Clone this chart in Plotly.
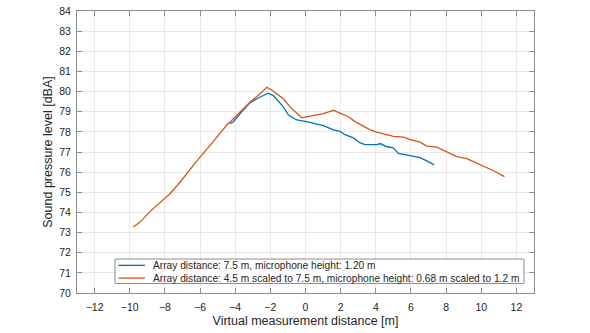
import plotly.graph_objects as go

# Orange series: array distance 4.5 m scaled
x_scaled = [-9.8, -9.41, -8.85, -8.37, -8.09, -7.71, -7.14, -6.67, -6.19, -5.24, -4.48, -4.2,
            -3.72, -3.15, -2.58, -2.2, -1.92, -1.26, -0.88, -0.21, 0.26, 1.02, 1.59, 1.97,
            2.44, 2.82, 3.2, 3.68, 4.06, 4.63, 5.0, 5.58, 5.95, 6.52, 6.9, 7.47, 8.04, 8.61,
            9.18, 9.46, 9.94, 10.7, 11.32]
y_scaled = [73.28, 73.52, 74.04, 74.42, 74.61, 74.93, 75.5, 76.03, 76.55, 77.53, 78.34, 78.56,
            79.0, 79.48, 79.89, 80.21, 80.08, 79.64, 79.24, 78.70, 78.78, 78.91, 79.07, 78.91,
            78.75, 78.51, 78.34, 78.1, 77.99, 77.86, 77.78, 77.74, 77.61, 77.49, 77.29, 77.24,
            77.0, 76.77, 76.67, 76.56, 76.35, 76.07, 75.78]

# Blue series: array distance 7.5 m
x_ref = [-4.3, -4.1, -3.63, -3.15, -2.58, -2.11, -1.83, -1.26, -0.97, -0.5, 0.07, 0.64, 1.02,
         1.59, 1.97, 2.25, 2.73, 3.11, 3.39, 4.06, 4.25, 4.63, 5.0, 5.29, 5.95, 6.52, 6.9, 7.32]
y_ref = [78.4, 78.5, 78.99, 79.45, 79.73, 79.92, 79.80, 79.24, 78.83, 78.59, 78.51, 78.39, 78.31,
         78.1, 78.02, 77.86, 77.70, 77.45, 77.37, 77.37, 77.42, 77.26, 77.21, 76.93, 76.83, 76.72,
         76.56, 76.36]

x_ticks = [-12, -10, -8, -6, -4, -2, 0, 2, 4, 6, 8, 10, 12]
y_ticks = list(range(70, 85))

series_names = ["Array distance: 7.5 m, microphone height: 1.20 m",
                "Array distance: 4.5 m scaled to 7.5 m, microphone height: 0.68 m scaled to 1.2 m"]
series_colors = ["#0072BD", "#D95319"]

font = "Liberation Sans, Arial, sans-serif"

fig = go.Figure()
fig.add_trace(go.Scatter(x=x_ref, y=y_ref, mode="lines",
                         line=dict(color=series_colors[0], width=1.3),
                         name=series_names[0], showlegend=False))
fig.add_trace(go.Scatter(x=x_scaled, y=y_scaled, mode="lines",
                         line=dict(color=series_colors[1], width=1.3),
                         name=series_names[1], showlegend=False))

axis_common = dict(showline=True, linecolor="#8c8c8c", linewidth=1, mirror="allticks",
                   ticks="inside", ticklen=5, tickcolor="#8c8c8c",
                   showgrid=True, gridcolor="#e8e8e8", gridwidth=1, zeroline=False,
                   ticklabeloverflow="allow",
                   tickfont=dict(family=font, size=10.5, color="#262626"))

# Compact legend box (MATLAB-style) drawn in paper coordinates
lx0, lx1, ly0, ly1 = 0.0832, 0.978, 0.0337, 0.1205
row_y = [0.0980, 0.0530]
shapes = [dict(type="rect", xref="paper", yref="paper", x0=lx0, x1=lx1, y0=ly0, y1=ly1,
               line=dict(color="#8c8c8c", width=1), fillcolor="white", layer="above")]
annotations = []
for name, color, ry in zip(series_names, series_colors, row_y):
    shapes.append(dict(type="line", xref="paper", yref="paper", x0=0.0904, x1=0.1488,
                       y0=ry, y1=ry, line=dict(color=color, width=1.3), layer="above"))
    annotations.append(dict(xref="paper", yref="paper", x=0.1625, y=ry, xanchor="left",
                            yanchor="middle", text=name, showarrow=False,
                            font=dict(family=font, size=10.2, color="#262626")))

fig.update_layout(
    width=590, height=333,
    margin=dict(l=77, r=56, t=5, b=40),
    paper_bgcolor="white", plot_bgcolor="white",
    font=dict(family=font, color="#262626"),
    xaxis=dict(range=[-13, 13], tickvals=x_ticks, ticklabelstandoff=4,
               title=dict(text="Virtual measurement distance [m]", font=dict(size=12.5), standoff=4),
               **axis_common),
    yaxis=dict(range=[70, 84], tickvals=y_ticks, ticklabelstandoff=3,
               title=dict(text="Sound pressure level [dBA]", font=dict(size=12.5), standoff=3),
               **axis_common),
    shapes=shapes,
    annotations=annotations,
    showlegend=False,
)

fig.write_html("out.html")
